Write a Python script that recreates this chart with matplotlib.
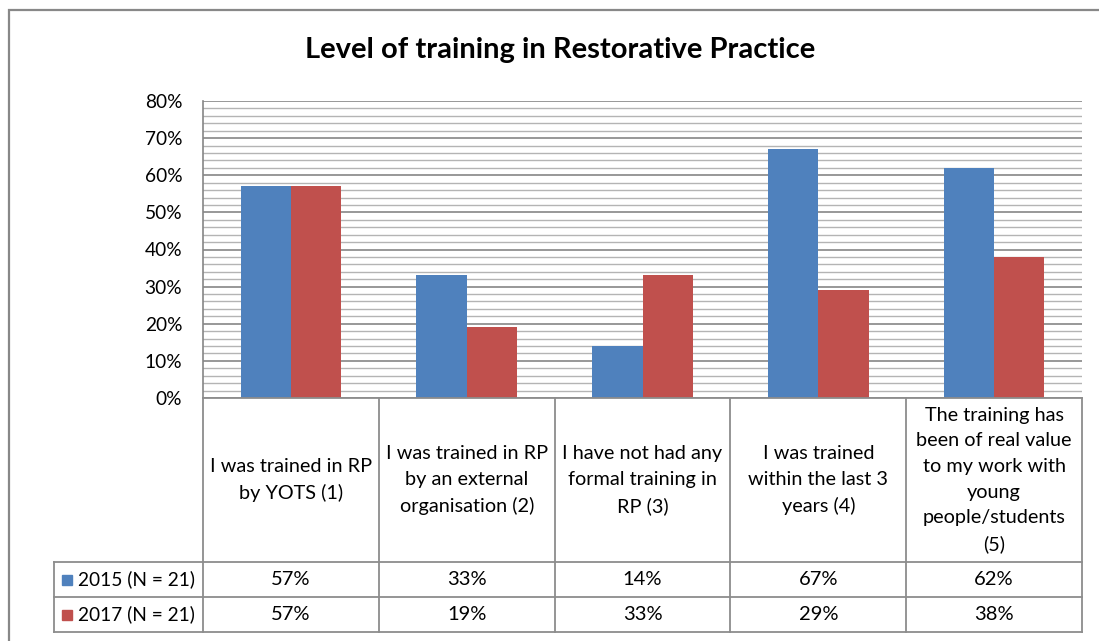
import matplotlib
matplotlib.use("Agg")
import matplotlib.pyplot as plt
from matplotlib.patches import Rectangle
from matplotlib.ticker import MultipleLocator, FuncFormatter

plt.rcParams['font.family'] = ['Lato', 'DejaVu Sans']

title = "Level of training in Restorative Practice"
categories = [
    "I was trained in RP\nby YOTS (1)",
    "I was trained in RP\nby an external\norganisation (2)",
    "I have not had any\nformal training in\nRP (3)",
    "I was trained\nwithin the last 3\nyears (4)",
    "The training has\nbeen of real value\nto my work with\nyoung\npeople/students\n(5)",
]
series_names = ["2015 (N = 21)", "2017 (N = 21)"]
values_2015 = [57, 33, 14, 67, 62]
values_2017 = [57, 19, 33, 29, 38]
colors = ["#4F81BD", "#C0504D"]

W, H = 1099, 641
fig = plt.figure(figsize=(W / 100, H / 100), dpi=100)

def fx(px):
    return px / W

def fy(py):
    return 1 - py / H

L, R, T, B = 203, 1082, 101, 398
TB = 632
ax = fig.add_axes([fx(L), fy(B), fx(R) - fx(L), fy(T) - fy(B)])
n = len(categories)
w = 1 / 3.5
xs = list(range(n))
ax.bar([x - w / 2 for x in xs], values_2015, width=w, color=colors[0], zorder=3)
ax.bar([x + w / 2 for x in xs], values_2017, width=w, color=colors[1], zorder=3)
ax.set_xlim(-0.5, n - 0.5)
ax.set_ylim(0, 80)
ax.yaxis.set_major_locator(MultipleLocator(10))
ax.yaxis.set_minor_locator(MultipleLocator(2))
ax.yaxis.set_major_formatter(FuncFormatter(lambda v, p: f"{int(round(v))}%"))
ax.grid(which='minor', axis='y', color='#b4b4b4', linewidth=1.0, zorder=0)
ax.grid(which='major', axis='y', color='#868686', linewidth=1.2, zorder=1)
ax.set_xticks([])
ax.tick_params(axis='y', which='both', length=0, pad=15, labelsize=13.8)
for s in ['top', 'right', 'bottom']:
    ax.spines[s].set_visible(False)
ax.spines['left'].set_color('#868686')
ax.spines['left'].set_linewidth(1.2)

# table axes
tax = fig.add_axes([fx(L), fy(TB), fx(R) - fx(L), fy(B) - fy(TB)])
tax.set_xlim(-0.5, n - 0.5)
tax.set_ylim(TB - B, 0)
tax.axis('off')
lc = '#8c8c8c'
lw = 1.3
h_head = 562 - B
h_r1 = 597 - B
h_r2 = TB - B
colw = (L - 54) / ((R - L) / n)
x_left = -0.5 - colw
# horizontal lines
tax.plot([-0.5, n - 0.5], [0, 0], color=lc, lw=lw, clip_on=False)
for yy in [h_head, h_r1, h_r2]:
    tax.plot([x_left, n - 0.5], [yy, yy], color=lc, lw=lw, clip_on=False)
# vertical lines
for i in range(n + 1):
    tax.plot([i - 0.5, i - 0.5], [0, h_r2], color=lc, lw=lw, clip_on=False)
tax.plot([x_left, x_left], [h_head, h_r2], color=lc, lw=lw, clip_on=False)

for i, c in enumerate(categories):
    tax.text(i, h_head / 2, c, ha='center', va='center', fontsize=14.3,
             linespacing=1.62, clip_on=False)
    tax.text(i, (h_head + h_r1) / 2, f"{values_2015[i]}%", ha='center', va='center', fontsize=14.5)
    tax.text(i, (h_r1 + h_r2) / 2, f"{values_2017[i]}%", ha='center', va='center', fontsize=14.5)

# row labels with legend keys
for k, (yc, nm) in enumerate([((h_head + h_r1) / 2, series_names[0]), ((h_r1 + h_r2) / 2, series_names[1])]):
    fig.patches.append(Rectangle((fx(62), fy(B + yc + 5)), fx(10), 10 / H,
                                 transform=fig.transFigure, color=colors[k]))
    fig.text(fx(78), fy(B + yc), nm, ha='left', va='center', fontsize=13.8)

fig.text(fx(560), fy(50), title, ha='center', va='center', fontsize=21, fontweight='bold')

# chart border
fig.patches.append(Rectangle((fx(9), fy(700)), fx(1200), 690 / H, transform=fig.transFigure,
                             fill=False, edgecolor='#888888', linewidth=1.6))

fig.savefig("out.png", dpi=100)
